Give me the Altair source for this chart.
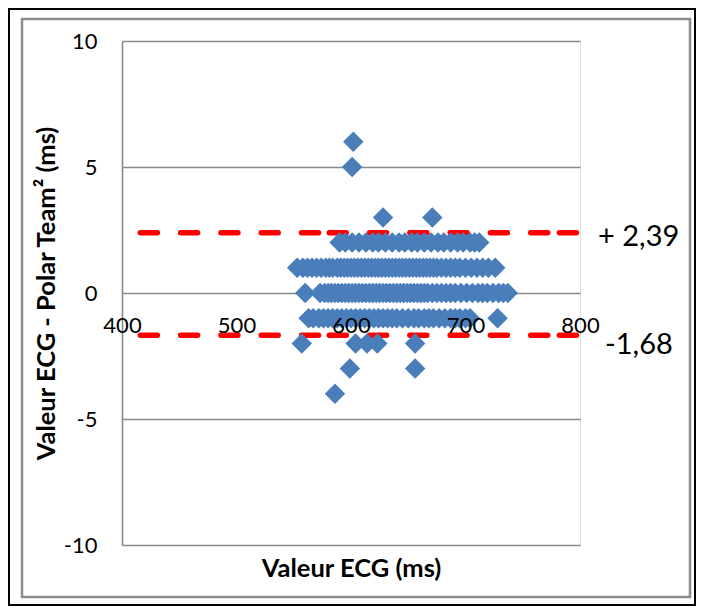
import altair as alt
import pandas as pd

# ---- data (x = ECG value in ms, y = ECG - Polar Team² in ms)
ROW_P2_X = [590, 595, 601, 607, 613, 619, 624, 630, 636, 642, 647, 653, 658, 664,
            670, 676, 681, 687, 693, 698, 704, 708, 712]
ROW_P1_X = [553, 558, 562, 566, 570, 574, 578, 581, 584, 588, 591, 594, 597, 600,
            603, 606, 609, 612, 615, 618, 621, 624, 627, 630, 633, 636, 639, 642,
            645, 648, 651, 654, 657, 660, 663, 666, 669, 672, 675, 679, 683, 687,
            691, 695, 700, 705, 710, 715, 720, 726]
ROW_0_X = [560, 573, 577, 580, 583, 586, 589, 592, 595, 598, 601, 604, 607, 610,
           613, 616, 619, 622, 625, 628, 631, 634, 637, 640, 643, 646, 649, 652,
           655, 658, 661, 664, 667, 671, 675, 679, 683, 687, 691, 696, 701, 706,
           711, 715, 719, 724, 729, 733, 737]
ROW_M1_X = [563, 567, 572, 576, 580, 584, 588, 592, 596, 600, 604, 608, 612, 616,
            620, 624, 628, 632, 636, 640, 645, 650, 655, 659, 664, 668, 672, 677,
            682, 687, 691, 695, 700, 704, 728]
OUTLIER_X = [602, 601, 628, 671, 557, 604, 614, 623, 656, 599, 656, 586]
OUTLIER_Y = [6, 5, 3, 3, -2, -2, -2, -2, -2, -3, -3, -4]

LOA_VALUES = [2.39, -1.68]
LOA_LABELS = ["+ 2,39", "-1,68"]
LOA_SEG_START = [416, 581, 782]
LOA_SEG_END = [581, 782, 800]

X_TICKS = [400, 500, 600, 700, 800]
Y_TICKS = [-10, -5, 0, 5, 10]
X_TITLE = "Valeur ECG (ms)"
Y_TITLE = "Valeur ECG - Polar Team² (ms)"

# ---- tables
xs, ys = [], []
for row_y, row_x in [(2, ROW_P2_X), (1, ROW_P1_X), (0, ROW_0_X), (-1, ROW_M1_X)]:
    xs += row_x
    ys += [row_y] * len(row_x)
xs += OUTLIER_X
ys += OUTLIER_Y
points = pd.DataFrame({"x": xs, "y": ys})

seg_rows = []
for v in LOA_VALUES:
    for s, e in zip(LOA_SEG_START, LOA_SEG_END):
        seg_rows.append({"x": s, "x2": e, "y": v})
segs = pd.DataFrame(seg_rows)

FONT = "Lato"
W, H = 458, 504

xscale = alt.Scale(domain=[400, 800], nice=False, zero=False)
yscale = alt.Scale(domain=[-10, 10], nice=False, zero=False)

XAXIS = alt.Axis(values=X_TICKS, title=X_TITLE, grid=False, domain=False, ticks=False,
                 tickSize=0, offset=-252, labelPadding=22, labelFont=FONT,
                 labelFontSize=22, labelColor="black", labelAngle=0,
                 titleFont=FONT, titleFontSize=25.5, titleFontWeight="bold",
                 titleColor="black", titleY=275, titleBaseline="middle",
                 zindex=1, labelOverlap=False, labelFlush=False)
YAXIS = alt.Axis(values=Y_TICKS, title=Y_TITLE, grid=True, gridColor="#898989",
                 gridWidth=1.6, domain=True, domainColor="#898989", domainWidth=1.6,
                 ticks=False, tickSize=0, labelPadding=25, labelFont=FONT,
                 labelFontSize=22, labelColor="black",
                 labelExpr="'' + datum.value",
                 titleFont=FONT, titleFontSize=25.5, titleFontWeight="bold",
                 titleColor="black",
                 titleX=-76, titleY=252, titleAngle=270, titleBaseline="middle",
                 titleAlign="center", labelOverlap=False, labelFlush=False)

one = pd.DataFrame({"k": [0]})
outer = alt.Chart(one).mark_rect(fillOpacity=0, stroke="black", strokeWidth=2).encode(
    x=alt.value(-113), x2=alt.value(573), y=alt.value(-32), y2=alt.value(564))
inner = alt.Chart(one).mark_rect(fillOpacity=0, stroke="#8c8c8c", strokeWidth=2.5).encode(
    x=alt.value(-100), x2=alt.value(568), y=alt.value(-22), y2=alt.value(556))

lines = alt.Chart(segs).mark_rule(color="#FF0000", strokeWidth=5.5, strokeCap="round",
                                  strokeDash=[17, 23.3]).encode(
    x=alt.X("x:Q", scale=xscale, axis=XAXIS),
    x2="x2:Q",
    y=alt.Y("y:Q", scale=yscale, axis=YAXIS),
)

dots = alt.Chart(points).mark_point(shape="diamond", filled=True, size=420,
                                    color="#4A7EBB", opacity=1).encode(
    x=alt.X("x:Q", scale=xscale, axis=XAXIS),
    y=alt.Y("y:Q", scale=yscale, axis=YAXIS),
)

labels = []
for i, (v, lab) in enumerate(zip(LOA_VALUES, LOA_LABELS)):
    df = pd.DataFrame({"x": [800], "y": [v], "t": [lab]})
    labels.append(
        alt.Chart(df).mark_text(align="left", baseline="middle", font=FONT, fontSize=29,
                                color="black", dx=18 if i == 0 else 25,
                                dy=4.5 if i == 0 else 10).encode(
            x=alt.X("x:Q", scale=xscale, axis=XAXIS),
            y=alt.Y("y:Q", scale=yscale, axis=YAXIS),
            text="t:N",
        )
    )

chart = alt.layer(outer, inner, lines, dots, *labels).properties(
    width=W, height=H,
    autosize=alt.AutoSizeParams(type="none"),
    padding={"left": 114, "top": 33, "right": 116, "bottom": 61},
).configure_view(stroke=None).configure(background="white")

chart.save("out.html", embed_options={"renderer": "svg", "actions": False})
